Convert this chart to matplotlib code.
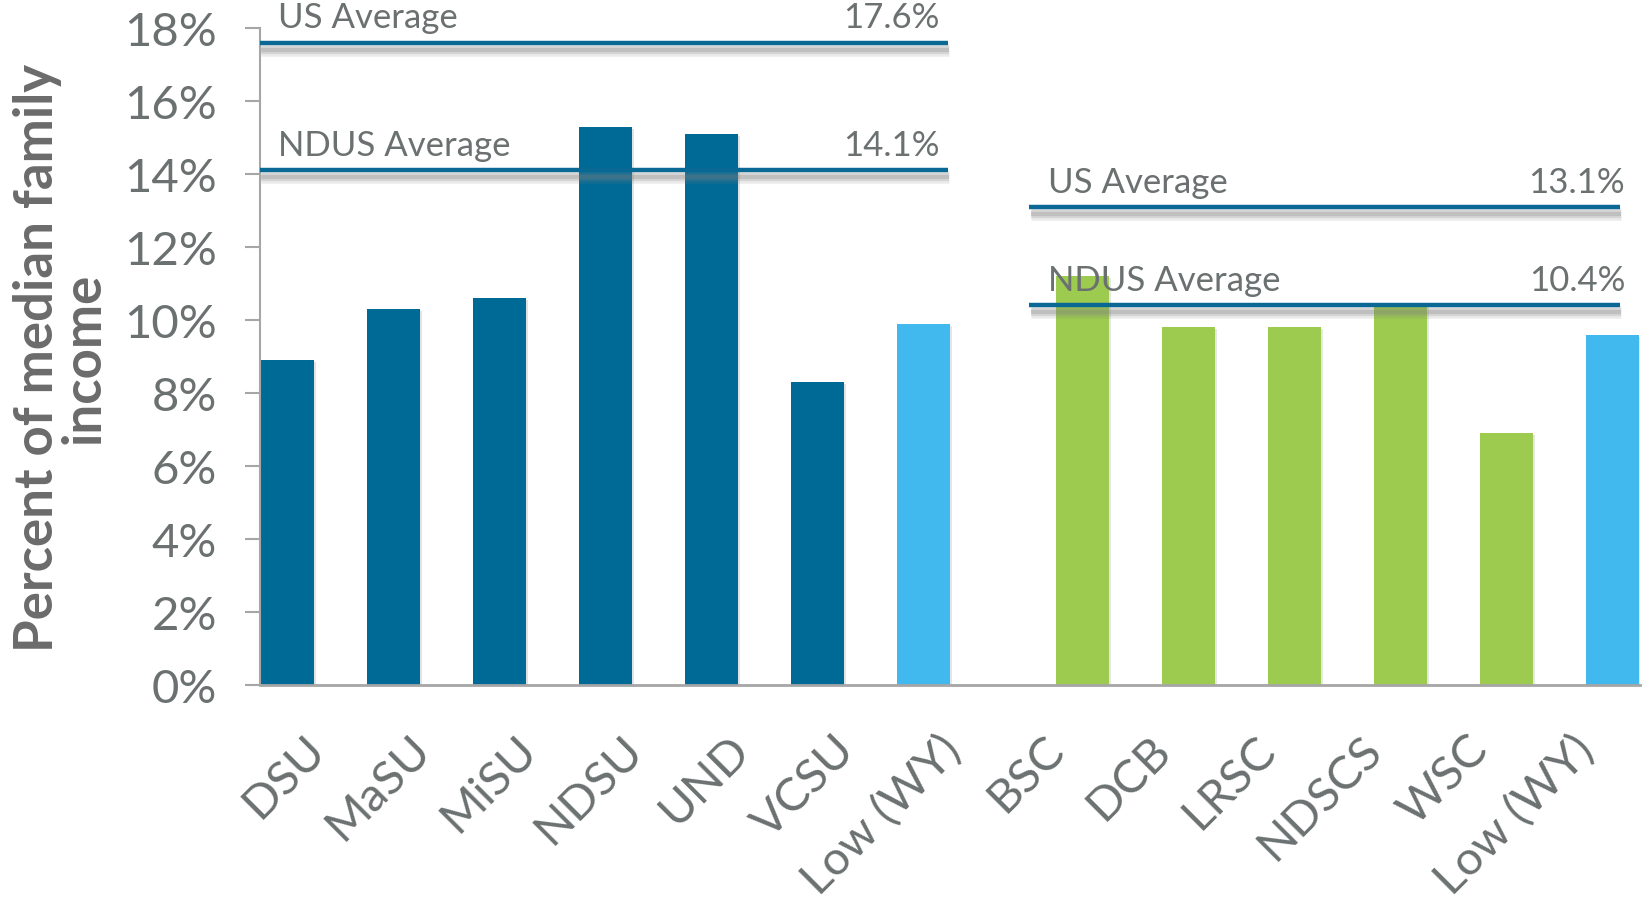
#!/usr/bin/env python3
"""
Tuition as a percent of median family income - NDUS institutions vs averages.
"""

import matplotlib
matplotlib.use("Agg")
import matplotlib.pyplot as plt
import matplotlib.patheffects as pe
import matplotlib.transforms as mtransforms
from matplotlib.ticker import FuncFormatter


# Four-year institutions (left group)
UNIV_NAMES = ["DSU", "MaSU", "MiSU", "NDSU", "UND", "VCSU", "Low (WY)"]
UNIV_VALUES = [8.9, 10.3, 10.6, 15.3, 15.1, 8.3, 9.9]

# Two-year colleges (right group)
COLL_NAMES = ["BSC", "DCB", "LRSC", "NDSCS", "WSC", "Low (WY)"]
COLL_VALUES = [11.2, 9.8, 9.8, 10.4, 6.9, 9.6]

# Reference averages
UNIV_AVERAGES = [("US Average", 17.6), ("NDUS Average", 14.1)]
COLL_AVERAGES = [("US Average", 13.1), ("NDUS Average", 10.4)]

DARK_BLUE = "#006A96"
LIGHT_BLUE = "#41B8EE"
GREEN = "#9DCB4F"
LINE_BLUE = "#0A6894"
TEXT_GRAY = "#6B7070"
AXIS_GRAY = "#A6A6A6"

FONT = "Lato"


def main():
    fig = plt.figure(figsize=(16.42, 9.03), dpi=100)
    ax = fig.add_axes([0.1583, 0.2403, 0.8404, 0.7276])

    # x positions: right group shifted by an extra half slot
    univ_x = list(range(len(UNIV_NAMES)))
    coll_x = [len(UNIV_NAMES) + 0.5 + i for i in range(len(COLL_NAMES))]

    univ_colors = [DARK_BLUE] * (len(UNIV_NAMES) - 1) + [LIGHT_BLUE]
    coll_colors = [GREEN] * (len(COLL_NAMES) - 1) + [LIGHT_BLUE]

    bar_fx = [pe.SimplePatchShadow(offset=(1.5, -1.5), alpha=0.12), pe.Normal()]
    ax.bar(univ_x, UNIV_VALUES, width=0.5, color=univ_colors, zorder=2,
           path_effects=bar_fx)
    ax.bar(coll_x, COLL_VALUES, width=0.5, color=coll_colors, zorder=2,
           path_effects=bar_fx)

    # average lines with labels (soft shadow built from a few faint strokes)
    line_fx = [pe.SimpleLineShadow(offset=(1, -5), shadow_color="#7f7f7f",
                                   alpha=0.15, linewidth=9),
               pe.SimpleLineShadow(offset=(1, -5), shadow_color="#7f7f7f",
                                   alpha=0.2, linewidth=6),
               pe.SimpleLineShadow(offset=(1, -5), shadow_color="#7f7f7f",
                                   alpha=0.25, linewidth=3),
               pe.Normal()]
    spans = [(-0.26, 6.23, -0.09, 6.15, UNIV_AVERAGES),
             (7.0, 12.57, 7.18, 12.62, COLL_AVERAGES)]
    for x0, x1, tx0, tx1, avgs in spans:
        for name, val in avgs:
            ax.plot([x0, x1], [val, val], color=LINE_BLUE, lw=3.2,
                    solid_capstyle="butt", zorder=4, path_effects=line_fx,
                    clip_on=False)
            ax.text(tx0, val + 0.42, name, ha="left", va="baseline",
                    fontsize=25, color=TEXT_GRAY, family=FONT, zorder=5)
            ax.text(tx1, val + 0.42, f"{val:.1f}%", ha="right", va="baseline",
                    fontsize=25, color=TEXT_GRAY, family=FONT, zorder=5)

    ax.set_xlim(-0.26, 12.76)
    ax.set_ylim(0, 18)
    ax.set_yticks(range(0, 19, 2))
    ax.yaxis.set_major_formatter(FuncFormatter(lambda v, _: f"{v:.0f}%"))

    for side in ["top", "right"]:
        ax.spines[side].set_visible(False)
    ax.spines["left"].set_color(AXIS_GRAY)
    ax.spines["bottom"].set_color(AXIS_GRAY)
    ax.spines["left"].set_linewidth(1.5)
    ax.spines["bottom"].set_linewidth(2)

    ax.tick_params(axis="y", length=11, width=1.5, color=AXIS_GRAY, pad=20,
                   labelsize=34, labelcolor=TEXT_GRAY)
    for lbl in ax.get_yticklabels():
        lbl.set_family(FONT)

    ax.set_xticks(univ_x + coll_x)
    ax.set_xticklabels(UNIV_NAMES + COLL_NAMES, rotation=45, ha="right",
                       va="center", rotation_mode="anchor", fontsize=34,
                       color=TEXT_GRAY, family=FONT)
    ax.tick_params(axis="x", length=0, pad=41)
    # the two groups' labels sit at different offsets from their bars
    shift_left = mtransforms.ScaledTranslation(22 / 72, 0, fig.dpi_scale_trans)
    shift_right = mtransforms.ScaledTranslation(-18 / 72, 0, fig.dpi_scale_trans)
    for i, lbl in enumerate(ax.get_xticklabels()):
        shift = shift_left if i < len(UNIV_NAMES) else shift_right
        lbl.set_transform(lbl.get_transform() + shift)

    fig.text(0.037, 1 - 358 / 903, "Percent of median family\nincome",
             rotation=90, ha="center", va="center", multialignment="center",
             fontsize=38, fontweight="bold", color="#6B6B6B", family=FONT,
             linespacing=0.95)

    fig.savefig("out.png", dpi=100)


if __name__ == "__main__":
    main()
